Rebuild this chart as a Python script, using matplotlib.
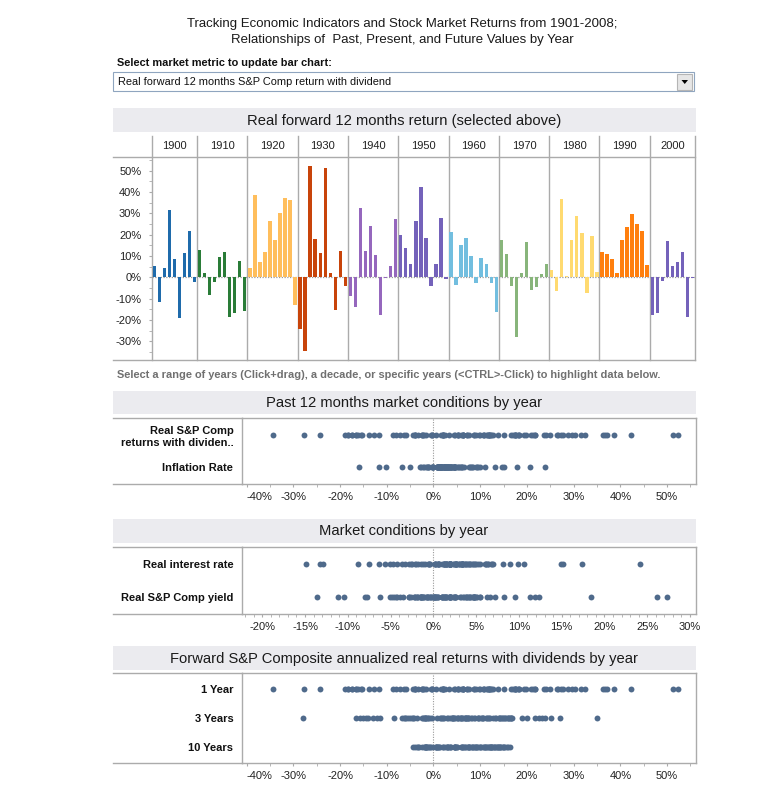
import matplotlib
matplotlib.use('Agg')
import matplotlib.pyplot as plt
from matplotlib.ticker import FuncFormatter, MultipleLocator
from matplotlib.patches import Rectangle, Polygon

plt.rcParams['font.family'] = ['Liberation Sans', 'DejaVu Sans']

# ---------------- DATA ----------------
decades = ['1900', '1910', '1920', '1930', '1940', '1950', '1960', '1970', '1980', '1990', '2000']
decade_colors = ['#1F6BAB', '#2A7C38', '#FFBE5C', '#C8440A', '#9567BD', '#7462BA',
                 '#72BEDF', '#88B57B', '#FFDA70', '#FF7F0E', '#7462BA']

# Real forward 12 months S&P Comp return with dividend (%), 1901-2008, grouped by decade
fwd_1900 = [5.3, -11.6, 4.4, 31.6, 8.6, -18.9, 11.4, 21.7, -2.2]
fwd_1910 = [12.8, 2.0, -8.1, -2.0, 9.7, 11.9, -18.4, -16.6, 7.7, -15.6]
fwd_1920 = [4.5, 38.6, 7.2, 11.9, 26.6, 17.7, 30.3, 37.2, 36.3, -12.8]
fwd_1930 = [-24.2, -34.4, 52.3, 18.0, 11.4, 51.3, 2.0, -15.2, 12.3, -3.9]
fwd_1940 = [-8.6, -13.8, 32.5, 12.3, 24.1, 10.5, -17.5, -0.3, 5.3, 27.3]
fwd_1950 = [19.8, 13.9, 6.3, 26.4, 42.3, 18.4, -3.9, 6.3, 27.8, -0.6]
fwd_1960 = [21.3, -3.4, 15.2, 18.4, 10.0, -2.5, 9.1, 6.3, -2.5, -16.1]
fwd_1970 = [17.5, 10.9, -3.9, -27.8, 2.0, 16.6, -5.8, -4.4, 1.6, 6.3]
fwd_1980 = [3.4, -6.3, 36.7, 0.6, 17.5, 28.8, 20.8, -7.2, 19.4, 2.5]
fwd_1990 = [11.9, 10.9, 8.6, 2.0, 17.5, 23.6, 29.7, 25.0, 21.7, 5.8]
fwd_2000 = [-17.5, -16.6, -1.6, 17.0, 5.3, 7.2, 11.9, -18.4, -0.4]
fwd_by_decade = [fwd_1900, fwd_1910, fwd_1920, fwd_1930, fwd_1940, fwd_1950,
                 fwd_1960, fwd_1970, fwd_1980, fwd_1990, fwd_2000]

# Past 12 months real S&P returns (same yearly returns, seen from the following year)
past_returns = [v for d in fwd_by_decade for v in d]

inflation = [0.0, 2.3, 2.2, -0.4, -1.0, 2.5, 4.6, -2.6, 1.6, 4.5,
             -2.3, 3.5, 2.2, 1.0, 1.0, 11.1, 17.9, 20.6, 14.6, 23.9,
             -15.9, -6.7, 1.8, 0.0, 2.3, 1.1, -1.7, -1.1, 0.0, -5.1,
             -11.6, -10.1, -2.9, 3.1, 2.2, 1.5, 3.6, -2.1, -1.4, 0.7,
             5.0, 13.2, 6.1, 1.7, 2.3, 8.3, 15.1, 8.1, -1.2, 1.3,
             7.9, 1.9, 0.8, 0.7, -0.4, 1.5, 3.3, 2.8, 0.7, 1.7,
             1.0, 1.0, 1.3, 1.3, 1.6, 2.9, 3.1, 4.2, 5.5, 5.7,
             4.4, 3.2, 6.2, 9.6, 9.1, 5.8, 6.5, 7.6, 9.3, 10.0,
             8.4, 3.8, 3.7, 4.0, 3.6, 1.1, 4.4, 4.4, 4.6, 5.2,
             4.7, 2.6, 3.3, 2.5, 2.7, 2.7, 3.0, 1.6, 1.7, 2.7,
             3.7, 1.1, 2.6, 1.9, 3.0, 4.0, 2.1, 4.3]

real_interest = [4.0, 1.8, 2.5, 4.8, 5.2, 2.0, 0.5, 6.9, 2.8, 0.2,
                 6.4, 1.0, 2.6, 3.5, 3.2, -8.8, -13.2, -14.9, -7.5, -4.7,
                 24.2, 14.9, 3.4, 4.5, 2.0, 3.3, 8.1, 5.0, 4.3, 10.6,
                 17.4, 15.1, 6.1, -2.5, -1.8, -1.0, -2.9, 9.0, 1.9, -0.4,
                 -4.2, -6.4, -2.6, -1.4, -2.0, -5.6, -12.9, -2.2, 9.9, 0.2,
                 -5.1, 0.3, 1.5, 1.2, 1.9, 1.3, 0.2, 0.6, 2.6, 2.7,
                 1.9, 2.0, 1.9, 2.3, 2.4, 1.9, 1.8, 1.5, 1.2, 2.1,
                 1.6, 2.5, 0.5, -3.7, -1.2, 1.6, 0.7, -0.6, -3.3, -0.5,
                 5.5, 6.7, 6.1, 7.0, 6.0, 6.4, 3.8, 4.6, 4.2, 3.3,
                 3.5, 4.3, 3.0, 3.3, 4.9, 3.1, 3.3, 3.7, 3.0, 3.7,
                 1.4, 3.9, 1.5, 2.0, 1.3, 0.7, 2.6, -0.5]

real_yield = [4.0, 2.5, 3.1, 6.3, 5.5, 2.0, 1.3, 9.5, 3.8, 1.4,
              7.2, 2.4, 3.8, 4.5, 4.3, -4.6, -10.5, -13.6, -8.0, -11.1,
              27.3, 12.4, 4.2, 5.0, 3.6, 4.6, 6.6, 4.8, 3.5, 8.2,
              18.4, 26.1, 11.9, 1.5, 1.9, 2.3, 1.0, 5.1, 4.7, 4.8,
              1.0, -5.1, -0.6, 3.2, 2.1, -4.4, -7.7, -2.1, 11.3, 5.5,
              -2.3, 3.9, 4.8, 4.9, 4.3, 2.5, 0.6, 1.0, 2.5, 1.6,
              2.0, 1.9, 2.0, 1.8, 1.4, 0.3, 0.1, -1.3, -2.6, -2.2,
              -1.1, -0.4, -3.5, -6.2, -4.8, -1.6, -1.9, -3.9, -4.2, -2.9,
              -1.8, 1.1, 0.2, 0.5, 0.1, 2.6, -1.5, -0.6, -1.2, -1.9,
              -1.5, 0.4, -0.4, 0.2, 0.1, -0.7, -1.2, -0.1, -0.3, -1.5,
              -1.5, 0.3, -0.7, 1.5, 0.0, -0.9, 1.2, -2.8]

fwd_1yr = past_returns

fwd_3yr = [-1.5, 3.2, 11.5, 6.8, -2.5, 1.7, 13.1, 8.6, -2.2, 0.8,
           1.5, -6.8, -4.1, 3.9, -0.8, -15.8, -13.0, -3.5, -11.5, 4.0,
           16.8, 15.1, 14.9, 21.8, 25.2, 27.1, 23.9, 7.0, -27.9, -14.4,
           -1.8, 34.9, 18.9, 22.5, 10.6, -5.0, -6.3, 1.8, -8.4, -5.8,
           6.4, 23.2, 20.0, 14.3, -1.2, -12.1, 4.6, 12.1, 16.5, 14.0,
           16.2, 13.3, 16.0, 15.5, 9.8, 6.7, 9.5, 10.4, 6.2, 11.6,
           7.3, 11.3, 11.9, 7.2, 2.8, 5.3, 4.4, -0.3, -2.0, 5.6,
           -4.3, -15.0, -16.6, -1.1, 8.1, -1.9, -1.5, 5.9, 4.1, 5.2,
           2.2, 15.3, 10.2, 14.6, 14.1, 8.9, 7.4, 12.8, 8.2, 10.6,
           9.5, 5.8, 6.9, 16.4, 16.6, 16.0, 14.5, 2.1, -4.5, -14.0,
           -6.0, 3.5, 7.5, 5.0, 4.2, -5.4]

fwd_10yr = [3.5, 2.0, 1.0, 0.5, -1.5, -2.5, -1.0, -3.0, -4.0, -2.0,
            -1.5, 0.5, 2.5, 6.5, 6.0, 8.5, 11.5, 14.5, 14.0, 13.0,
            14.8, 12.5, 8.9, 7.5, 5.0, 3.6, 1.2, -0.5, -1.9, 0.8,
            2.8, 6.8, 7.8, 4.6, 9.2, 5.8, 3.8, 7.4, 9.9, 11.8,
            13.5, 16.3, 15.2, 13.9, 15.8, 11.2, 14.2, 14.9, 16.0, 12.6,
            13.8, 12.3, 11.0, 12.4, 8.6, 7.3, 9.6, 9.0, 6.9, 7.6,
            5.1, 6.4, 4.7, 2.1, 1.3, -0.7, 0.0, 0.6, -1.3, -1.6,
            -1.1, -4.3, -3.6, 0.9, 4.5, 3.2, 4.4, 8.2, 10.2, 11.6,
            10.5, 14.3, 12.0, 13.3, 13.0, 12.2, 10.0, 13.2, 15.4, 11.0,
            10.8, 9.4, 8.2, 6.0, 4.5, 2.8, 3.0, -1.8, -3.3]

bar_ticks = [-30, -20, -10, 0, 10, 20, 30, 40, 50]

# ---------------- STYLE ----------------
W, H = 784, 788
GRID = '#ABABAB'
BAND = '#EBEBEF'
DOT = '#4F6A8B'
TXT = '#1A1A1A'
pct = FuncFormatter(lambda v, p: f"{int(round(v))}%")

fig = plt.figure(figsize=(W / 100, H / 100), dpi=100)
fig.patch.set_facecolor('white')


def rect(x0, y0, x1, y1):
    return [x0 / W, 1 - y1 / H, (x1 - x0) / W, (y1 - y0) / H]


canvas = fig.add_axes([0, 0, 1, 1])
canvas.set_xlim(0, W)
canvas.set_ylim(H, 0)
canvas.axis('off')

# Title
canvas.text(402, 24, "Tracking Economic Indicators and Stock Market Returns from 1901-2008;",
            ha='center', va='center', fontsize=9.5, color=TXT)
canvas.text(402, 40, "Relationships of  Past, Present, and Future Values by Year",
            ha='center', va='center', fontsize=9.5, color=TXT)

# Parameter control
canvas.text(117, 63, "Select market metric to update bar chart:", ha='left', va='center',
            fontsize=7.9, fontweight='bold', color='#111111')
canvas.add_patch(Rectangle((113, 72), 581, 19, facecolor='white', edgecolor='#8FA5BF', lw=0.8))
canvas.text(118, 81.5, "Real forward 12 months S&P Comp return with dividend", ha='left',
            va='center', fontsize=7.9, color='#111111')
canvas.add_patch(Rectangle((677, 74), 15, 15.5, facecolor='#E6E6E6', edgecolor='#B5B5B5', lw=0.8))
canvas.add_patch(Polygon([(681.5, 80), (688, 80), (684.75, 84)], closed=True, facecolor='black',
                         edgecolor='none'))

# Bands
bands = [(108, 132, "Real forward 12 months return (selected above)"),
         (391, 414, "Past 12 months market conditions by year"),
         (519, 543, "Market conditions by year"),
         (646, 670, "Forward S&P Composite annualized real returns with dividends by year")]
for y0, y1, label in bands:
    canvas.add_patch(Rectangle((113, y0), 583, y1 - y0, facecolor=BAND, edgecolor='none'))
    canvas.text(404, (y0 + y1) / 2 + 0.5, label, ha='center', va='center', fontsize=10.6, color=TXT)

canvas.text(117, 375, "Select a range of years (Click+drag), a decade, or specific years (<CTRL>-Click) "
            "to highlight data below.", ha='left', va='center', fontsize=7.9,
            fontweight='bold', color='#707070')

# ---------------- BAR CHART ----------------
bx0, bx1, by0, by1, hy0 = 151.7, 695, 157.3, 360, 136
axb = fig.add_axes(rect(bx0, by0, bx1, by1))
axb.set_facecolor('none')
idx = 0
bounds = [-0.5]
centers = []
for vals, col in zip(fwd_by_decade, decade_colors):
    xs = list(range(idx, idx + len(vals)))
    axb.bar(xs, vals, width=0.68, color=col, zorder=3, linewidth=0)
    centers.append(idx + (len(vals) - 1) / 2)
    idx += len(vals)
    bounds.append(idx - 0.5)
axb.set_xlim(-0.5, idx - 0.5)
axb.set_ylim(-38.8, 56.3)
axb.axhline(0, color='#999999', lw=0.9, ls=(0, (1, 1.2)), zorder=2)
ext = 1 + (by0 - hy0) / (by1 - by0)
for b in bounds:
    axb.axvline(b, ymin=0, ymax=ext, color=GRID, lw=1, clip_on=False, zorder=1)
for c, lab in zip(centers, decades):
    axb.text(c, 1 + (by0 - 146) / (by1 - by0), lab, transform=axb.get_xaxis_transform(),
             ha='center', va='center', fontsize=8, color='#222222')
for s in axb.spines.values():
    s.set_visible(False)
axb.set_xticks([])
axb.set_yticks(bar_ticks)
axb.yaxis.set_minor_locator(MultipleLocator(5))
axb.yaxis.set_major_formatter(pct)
axb.tick_params(axis='y', which='both', length=2.5, color=GRID, labelsize=8,
                labelcolor='#222222', pad=5)
canvas.plot([113, bx1], [by0, by0], color=GRID, lw=1)
canvas.plot([113, bx1], [by1, by1], color=GRID, lw=1)

# ---------------- STRIP PANELS ----------------
sx0, sx1 = 241.7, 696


def strip(y0, y1, rows, labels, xlim, major, minor):
    ax = fig.add_axes(rect(sx0, y0, sx1, y1))
    ax.set_facecolor('none')
    n = len(rows)
    for i, vals in enumerate(rows):
        ax.scatter(vals, [i] * len(vals), s=18, color=DOT, linewidths=0, zorder=3)
    ax.set_xlim(*xlim)
    half = 0.53
    ax.set_ylim(n - 1 + half, -half)
    ax.axvline(0, color='#999999', lw=0.8, ls=(0, (1, 1.3)), zorder=1)
    ax.set_yticks(range(n), labels)
    for t in ax.get_yticklabels():
        t.set_fontweight('bold')
    ax.tick_params(axis='y', length=0, pad=6, labelsize=8, labelcolor='#111111')
    ax.xaxis.set_major_locator(MultipleLocator(major))
    ax.xaxis.set_minor_locator(MultipleLocator(minor))
    ax.xaxis.set_major_formatter(pct)
    ax.tick_params(axis='x', which='both', direction='out', length=2.5, color=GRID,
                   labelsize=8, labelcolor='#222222', pad=3.5)
    for s in ax.spines.values():
        s.set_color(GRID)
        s.set_linewidth(1)
    canvas.plot([113, sx0], [y0, y0], color=GRID, lw=1)
    canvas.plot([113, sx0], [y1, y1], color=GRID, lw=1)
    # keep the leftmost tick label inside the pane, as in the source dashboard
    fig.canvas.draw()
    first = min((t for t in ax.xaxis.get_major_ticks() if xlim[0] <= t.get_loc() <= xlim[1]),
                key=lambda t: t.get_loc())
    if first.get_loc() - xlim[0] < 0.03 * (xlim[1] - xlim[0]):
        first.label1.set_horizontalalignment('left')
        first.label1.set_x(first.get_loc())
    return ax


strip(418, 484, [past_returns, inflation],
      ["Real S&P Comp\nreturns with dividen..", "Inflation Rate"], (-41.06, 56.2), 10, 5)
strip(547, 614, [real_interest, real_yield],
      ["Real interest rate", "Real S&P Comp yield"], (-22.4, 30.7), 5, 1)
strip(673, 763, [fwd_1yr, fwd_3yr, fwd_10yr],
      ["1 Year", "3 Years", "10 Years"], (-41.06, 56.2), 10, 5)

fig.savefig('out.png', dpi=100, facecolor='white')
